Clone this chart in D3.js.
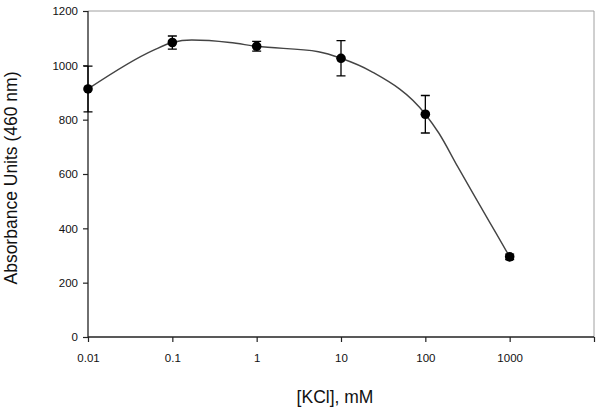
<!DOCTYPE html>
<html><head><meta charset="utf-8">
<script src="https://cdn.jsdelivr.net/npm/d3@7"></script>
<style>
html,body{margin:0;padding:0;background:#fff;}
svg{display:block;font-family:"Liberation Sans",Arial,Helvetica,sans-serif;}
</style></head>
<body>
<svg id="chart" width="601" height="412"></svg>
<script>
// Measured data
const kcl = [0.01, 0.1, 1, 10, 100, 1000];
const absorbance = [913, 1084, 1070, 1026, 820, 295];
const errors = [84, 24, 18, 65, 69, 10];
// Smoothed trend curve
const fitX = [0.01, 0.06, 0.1, 0.17, 0.48, 1, 5.4, 10, 23, 100, 145, 242, 407, 689, 1000];
const fitY = [913, 1056, 1084, 1093, 1084, 1070, 1050, 1026, 977, 820, 750, 627, 505, 382, 295];
const xTicks = [0.01, 0.1, 1, 10, 100, 1000, 10000];
const xTickLabels = ["0.01", "0.1", "1", "10", "100", "1000", ""];
const yTicks = [0, 200, 400, 600, 800, 1000, 1200];

const svg = d3.select("#chart");
const mL = 88, mR = 594, mT = 11, mB = 337;
const x = d3.scaleLog().domain([0.01, 10000]).range([mL, mR]);
const y = d3.scaleLinear().domain([0, 1200]).range([mB, mT]);

// gray frame top/right
svg.append("path")
  .attr("d", `M${mL},${mT}H${mR}V${mB}`)
  .attr("fill", "none").attr("stroke", "#a0a0a0").attr("stroke-width", 1);

// axes
const yAxis = d3.axisLeft(y).tickValues(yTicks).tickSize(5).tickPadding(5).tickFormat(d3.format("d"));
const gy = svg.append("g").attr("transform", `translate(${mL},0)`).call(yAxis);
const xAxis = d3.axisBottom(x).tickValues(xTicks).tickSize(5).tickPadding(16)
  .tickFormat((d, i) => xTickLabels[i]);
const gx = svg.append("g").attr("transform", `translate(0,${mB})`).call(xAxis);
[gx, gy].forEach(g => {
  g.select(".domain").attr("stroke", "#222").attr("stroke-width", 1.3);
  g.selectAll(".tick line").attr("stroke", "#222").attr("stroke-width", 1.2);
  g.selectAll(".tick text").attr("fill", "#111")
    .style("font-size", "11.5px").style("font-family", "Liberation Sans, Arial, sans-serif");
});
gy.select(".domain").attr("d", `M0,${mB}V${mT}`);
gx.select(".domain").attr("d", `M${mL},0H${mR}`);
gx.selectAll(".tick text").attr("dy", "0.35em").attr("y", 21);

// trend curve
const fit = fitX.map((d, i) => [d, fitY[i]]);
svg.append("path").datum(fit)
  .attr("fill", "none").attr("stroke", "#444").attr("stroke-width", 1.4)
  .attr("d", d3.line().x(d => x(d[0])).y(d => y(d[1])).curve(d3.curveMonotoneX));

// error bars
const pts = kcl.map((d, i) => ({x: d, y: absorbance[i], e: errors[i]}));
const eb = svg.append("g").attr("stroke", "#000").attr("stroke-width", 1.3).attr("fill", "none");
pts.forEach(p => {
  const cx = x(p.x), y1 = y(p.y + p.e), y2 = y(p.y - p.e);
  eb.append("path").attr("d", `M${cx},${y1}V${y2}M${cx-4.5},${y1}H${cx+4.5}M${cx-4.5},${y2}H${cx+4.5}`);
});
svg.append("g").selectAll("circle").data(pts).join("circle")
  .attr("cx", d => x(d.x)).attr("cy", d => y(d.y)).attr("r", 4.8).attr("fill", "#000");

// titles
svg.append("text").attr("x", 335).attr("y", 403).attr("text-anchor", "middle")
  .style("font-size", "17.5px").attr("fill", "#111").text("[KCl], mM");
svg.append("text").attr("transform", "translate(17,178) rotate(-90)").attr("text-anchor", "middle")
  .style("font-size", "17.5px").attr("fill", "#111").text("Absorbance Units (460 nm)");
</script>
</body></html>
